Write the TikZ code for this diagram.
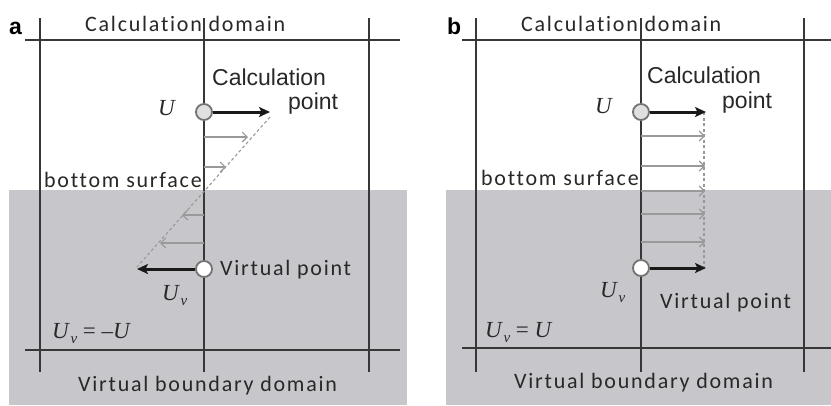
\documentclass[tikz,border=0pt]{standalone}
\usepackage{fontspec}
\setmainfont{Liberation Serif}
\newfontfamily\lab[LetterSpace=8,Ligatures={NoCommon}]{Carlito}
\newfontfamily\arl{Liberation Sans}
\usetikzlibrary{arrows.meta}
\definecolor{regiongray}{RGB}{199,199,203}
\definecolor{linec}{RGB}{55,55,55}
\definecolor{textc}{RGB}{40,40,40}
\newcommand{\Uv}{\textit{U}\kern0.5pt\raisebox{-5pt}{\fontsize{15}{15}\selectfont\textit{v}}}
\begin{document}
\begin{tikzpicture}[x=1pt,y=-1pt,
  region/.style={fill=regiongray},
  gridline/.style={draw=linec,line width=1.2pt},
  calcpt/.style={circle,draw=black!55,fill=black!12,line width=1.8pt,minimum size=16pt,inner sep=0pt},
  virtpt/.style={calcpt,fill=white},
  boldarrow/.style={draw=black!90,line width=3pt,-{Stealth[length=11pt,width=10pt,inset=2.5pt]}},
  thinarrow/.style={draw=black!40,line width=1.1pt,-{Straight Barb[length=5pt,width=10pt]}},
  profile/.style={draw=black!40,line width=1.1pt,dash pattern=on 3pt off 2.5pt},
  lbl/.style={inner sep=0pt,anchor=base west,text=textc,font=\lab\fontsize{22}{22}\selectfont},
  alabel/.style={inner sep=0pt,anchor=base west,text=textc,font=\arl\fontsize{23}{23}\selectfont},
  mlabel/.style={inner sep=0pt,anchor=base west,text=textc,font=\fontsize{23}{23}\selectfont},
  panel/.style={inner sep=0pt,anchor=base west,text=black,font=\arl\bfseries\fontsize{23}{23}\selectfont}
]
\useasboundingbox (0,0) rectangle (831,405);
\fill[white] (0,0) rectangle (831,405);
% ---------- panel a ----------
\fill[region] (9,190) rectangle (407,405);
\draw[gridline] (25,40) -- (400,40);
\draw[gridline] (25,350) -- (400,350);
\draw[gridline] (40,18) -- (40,372);
\draw[gridline] (204,18) -- (204,372);
\draw[gridline] (369,18) -- (369,372);
\node[panel] (pa) at (9,34) {a};
\node[lbl] (cda) at (85,31) {Calculation domain};
\node[alabel] (cpa1) at (212,85) {Calculation};
\node[alabel] (cpa2) at (288,109) {point};
\node[mlabel] (ua) at (158,115) {\textit{U}};
\node[lbl] (bsa) at (44,187) {bottom surface};
\node[lbl] (vpa) at (220,275) {Virtual point};
\node[mlabel] (uva) at (162,300) {\Uv};
\node[mlabel] (eqa) at (52,338) {\Uv\ = –\textit{U}};
\node[lbl] (vbda) at (78,391) {Virtual boundary domain};
\coordinate (da1) at (270,117);
\coordinate (da2) at (137,267);
\draw[profile] (da1) -- (da2);
\coordinate (ga1s) at (204,137); \coordinate (ga1e) at (248,137);
\coordinate (ga2s) at (204,167); \coordinate (ga2e) at (226,167);
\coordinate (ga3s) at (204,215); \coordinate (ga3e) at (182,215);
\coordinate (ga4s) at (204,243); \coordinate (ga4e) at (160,243);
\draw[thinarrow] (ga1s) -- (ga1e);
\draw[thinarrow] (ga2s) -- (ga2e);
\draw[thinarrow] (ga3s) -- (ga3e);
\draw[thinarrow] (ga4s) -- (ga4e);
\node[calcpt] (ca) at (204,112) {};
\node[virtpt] (va) at (204,269) {};
\coordinate (cae) at (270,112);
\coordinate (vae) at (137,269);
\draw[boldarrow] (ca) -- (cae);
\draw[boldarrow] (va) -- (vae);
% ---------- panel b ----------
\fill[region] (446,190) rectangle (831,405);
\draw[gridline] (462,40) -- (831,40);
\draw[gridline] (462,348) -- (831,348);
\draw[gridline] (476,18) -- (476,372);
\draw[gridline] (641,18) -- (641,372);
\draw[gridline] (804,18) -- (804,372);
\node[panel] (pb) at (447,34) {b};
\node[lbl] (cdb) at (521,31) {Calculation domain};
\node[alabel] (cpb1) at (647,83) {Calculation};
\node[alabel] (cpb2) at (722,108) {point};
\node[mlabel] (ub) at (595,113) {\textit{U}};
\node[lbl] (bsb) at (481,185) {bottom surface};
\node[lbl] (vpb) at (660,308) {Virtual point};
\node[mlabel] (uvb) at (600,297) {\Uv};
\node[mlabel] (eqb) at (485,337) {\Uv\ = \textit{U}};
\node[lbl] (vbdb) at (514,388) {Virtual boundary domain};
\coordinate (db1) at (704,112);
\coordinate (db2) at (704,268);
\draw[profile] (db1) -- (db2);
\foreach \yy [count=\i] in {136,166,191,214,242}{
  \coordinate (gb\i s) at (641,\yy);
  \coordinate (gb\i e) at (705,\yy);
  \draw[thinarrow] (gb\i s) -- (gb\i e);
}
\node[calcpt] (cb) at (641,112) {};
\node[virtpt] (vb) at (641,268) {};
\coordinate (cbe) at (706,112);
\coordinate (vbe) at (706,268);
\draw[boldarrow] (cb) -- (cbe);
\draw[boldarrow] (vb) -- (vbe);
\end{tikzpicture}
\end{document}
